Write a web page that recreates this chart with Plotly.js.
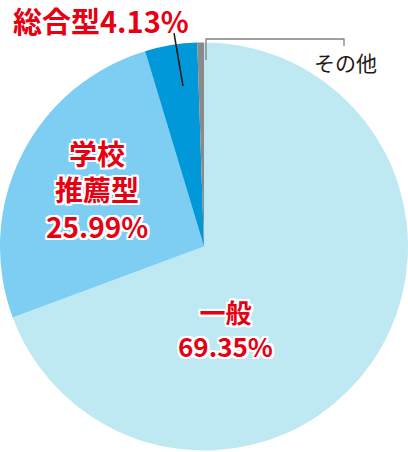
<!DOCTYPE html>
<html><head><meta charset="utf-8">
<script src="https://cdn.plot.ly/plotly-3.0.1.min.js"></script>
<style>html,body{margin:0;padding:0;background:#fff}</style>
</head><body><div id="chart" style="width:408px;height:452px"></div>
<script>
const categories = ["一般", "学校推薦型", "総合型", "その他"];
const values = [69.35, 25.99, 4.13, 0.53];
const colors = ["#bee8f2", "#7ecef3", "#0098d9", "#8a8a8a"];
const labelText = {
  general: ["一般", "69.35%"],
  school: ["学校", "推薦型", "25.99%"],
  sogo: "総合型4.13%",
  other: "その他"
};

const W = 408, H = 452;
const px = x => x / W, py = y => 1 - y / H;
const sh = "2px 0 0 #fff, -2px 0 0 #fff, 0 2px 0 #fff, 0 -2px 0 #fff, 2px 2px 0 #fff, -2px -2px 0 #fff, 2px -2px 0 #fff, -2px 2px 0 #fff";
const redFont = s => ({family: "Noto Sans CJK JP", size: s, color: "#e60012", weight: 700, shadow: sh});

function ann(text, x, y, size, font) {
  return {text: text, x: px(x), y: py(y), xref: "paper", yref: "paper", showarrow: false,
          xanchor: "center", yanchor: "middle", align: "center", font: font || redFont(size)};
}

const annotations = [
  ann(labelText.sogo, 101, 20, 29),
  ann(labelText.school.join("<br>"), 97, 189, 28),
  ann(labelText.general.join("<br>"), 225, 328, 26),
  ann(labelText.other, 345, 62, 21, {family: "Noto Sans CJK JP", size: 21, color: "#231815"})
];

const shapes = [
  {type: "line", xref: "paper", yref: "paper", x0: px(174), y0: py(33), x1: px(183), y1: py(86), line: {color: "#231815", width: 1.5}},
  {type: "path", xref: "paper", yref: "paper",
   path: `M ${px(206)} ${py(60)} L ${px(206)} ${py(39)} L ${px(344)} ${py(39)} L ${px(344)} ${py(46)}`,
   line: {color: "#808080", width: 1.3}}
];

Plotly.newPlot("chart", [{
  type: "pie", labels: categories, values: values, sort: false, direction: "clockwise", rotation: 0,
  marker: {colors: colors, line: {width: 0}}, textinfo: "none", hoverinfo: "none", showlegend: false,
  domain: {x: [0, 1], y: [py(451), py(42)]}
}], {
  width: W, height: H, margin: {l: 0, r: 0, t: 0, b: 0},
  paper_bgcolor: "#fff", plot_bgcolor: "#fff",
  annotations: annotations, shapes: shapes
}, {displayModeBar: false, staticPlot: true});
</script></body></html>
